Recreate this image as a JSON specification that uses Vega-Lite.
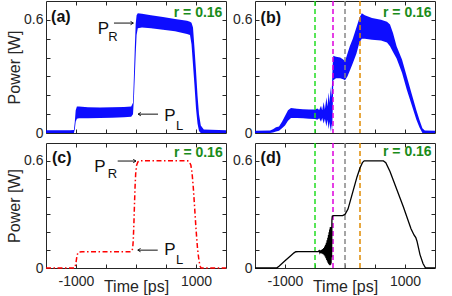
{
"$schema": "https://vega.github.io/schema/vega-lite/v6.json",
"padding": {"left": 5, "top": -1, "right": 0, "bottom": 0},
"config": {
 "view": {"stroke": "#262626", "strokeWidth": 1},
 "font": "Liberation Sans",
 "axis": {"grid": false, "domain": false, "tickSize": -4, "tickColor": "#262626", "labelFont": "Liberation Sans", "labelFontSize": 14, "labelColor": "#262626", "labelPadding": 7, "labelFlush": false, "labelOverlap": false, "titleFont": "Liberation Sans", "titleFontSize": 16, "titleFontWeight": "normal", "titleColor": "#262626"}
},
"datasets": {
 "a": [
  {"t":-1500,"lo":0,"hi":0.014},{"t":-1100,"lo":0,"hi":0.015},{"t":-1035,"lo":0,"hi":0.016},{"t":-1020,"lo":0.02,"hi":0.06},{"t":-1005,"lo":0.06,"hi":0.12},{"t":-985,"lo":0.075,"hi":0.14},{"t":-950,"lo":0.078,"hi":0.14},{"t":-800,"lo":0.078,"hi":0.137},{"t":-600,"lo":0.08,"hi":0.135},{"t":-400,"lo":0.081,"hi":0.136},{"t":-200,"lo":0.083,"hi":0.138},{"t":-80,"lo":0.086,"hi":0.14},{"t":-50,"lo":0.1,"hi":0.16},{"t":-35,"lo":0.18,"hi":0.3},{"t":-20,"lo":0.3,"hi":0.45},{"t":-5,"lo":0.42,"hi":0.58},{"t":10,"lo":0.52,"hi":0.625},{"t":30,"lo":0.555,"hi":0.635},{"t":100,"lo":0.56,"hi":0.632},{"t":250,"lo":0.555,"hi":0.625},{"t":450,"lo":0.548,"hi":0.615},{"t":650,"lo":0.54,"hi":0.605},{"t":850,"lo":0.525,"hi":0.595},{"t":900,"lo":0.52,"hi":0.59},{"t":925,"lo":0.47,"hi":0.585},{"t":950,"lo":0.36,"hi":0.56},{"t":975,"lo":0.25,"hi":0.45},{"t":1000,"lo":0.13,"hi":0.33},{"t":1025,"lo":0.05,"hi":0.2},{"t":1050,"lo":0.01,"hi":0.1},{"t":1080,"lo":0,"hi":0.04},{"t":1130,"lo":0,"hi":0.018},{"t":1500,"lo":0,"hi":0.014}
 ],
 "b": [
  {"t":-1500,"lo":0,"hi":0.012},{"t":-1250,"lo":0,"hi":0.013},{"t":-1200,"lo":0.002,"hi":0.02},{"t":-1150,"lo":0.008,"hi":0.03},{"t":-1100,"lo":0.012,"hi":0.035},{"t":-1050,"lo":0.025,"hi":0.06},{"t":-1000,"lo":0.04,"hi":0.09},{"t":-950,"lo":0.065,"hi":0.12},{"t":-900,"lo":0.08,"hi":0.132},{"t":-800,"lo":0.08,"hi":0.128},{"t":-700,"lo":0.078,"hi":0.126},{"t":-600,"lo":0.076,"hi":0.125},{"t":-500,"lo":0.074,"hi":0.124},{"t":-460,"lo":0.07,"hi":0.13},{"t":-430,"lo":0.078,"hi":0.122},{"t":-400,"lo":0.06,"hi":0.145},{"t":-380,"lo":0.08,"hi":0.12},{"t":-355,"lo":0.05,"hi":0.165},{"t":-335,"lo":0.075,"hi":0.125},{"t":-310,"lo":0.035,"hi":0.19},{"t":-292,"lo":0.07,"hi":0.14},{"t":-272,"lo":0.02,"hi":0.215},{"t":-255,"lo":0.06,"hi":0.16},{"t":-240,"lo":0.005,"hi":0.245},{"t":-228,"lo":0.05,"hi":0.19},{"t":-215,"lo":0,"hi":0.27},{"t":-205,"lo":0.12,"hi":0.36},{"t":-195,"lo":0.28,"hi":0.41},{"t":-150,"lo":0.29,"hi":0.405},{"t":-80,"lo":0.29,"hi":0.4},{"t":-30,"lo":0.285,"hi":0.39},{"t":0,"lo":0.28,"hi":0.38},{"t":40,"lo":0.3,"hi":0.42},{"t":80,"lo":0.33,"hi":0.46},{"t":130,"lo":0.37,"hi":0.5},{"t":190,"lo":0.42,"hi":0.56},{"t":240,"lo":0.48,"hi":0.61},{"t":280,"lo":0.5,"hi":0.635},{"t":330,"lo":0.5,"hi":0.625},{"t":450,"lo":0.495,"hi":0.61},{"t":600,"lo":0.49,"hi":0.6},{"t":700,"lo":0.48,"hi":0.59},{"t":750,"lo":0.46,"hi":0.575},{"t":800,"lo":0.43,"hi":0.53},{"t":860,"lo":0.395,"hi":0.46},{"t":950,"lo":0.32,"hi":0.39},{"t":1030,"lo":0.23,"hi":0.3},{"t":1110,"lo":0.15,"hi":0.21},{"t":1190,"lo":0.07,"hi":0.12},{"t":1240,"lo":0.03,"hi":0.07},{"t":1290,"lo":0,"hi":0.025},{"t":1330,"lo":0,"hi":0.013},{"t":1500,"lo":0,"hi":0.012}
 ],
 "c": [
  {"t":-1500,"v":0},{"t":-1030,"v":0},{"t":-1015,"v":0.005},{"t":-1000,"v":0.03},{"t":-985,"v":0.065},{"t":-970,"v":0.084},{"t":-950,"v":0.09},{"t":-900,"v":0.091},{"t":-100,"v":0.091},{"t":-70,"v":0.094},{"t":-55,"v":0.11},{"t":-45,"v":0.16},{"t":-35,"v":0.25},{"t":-25,"v":0.36},{"t":-15,"v":0.46},{"t":-5,"v":0.53},{"t":10,"v":0.575},{"t":30,"v":0.593},{"t":60,"v":0.6},{"t":860,"v":0.6},{"t":890,"v":0.595},{"t":915,"v":0.575},{"t":935,"v":0.53},{"t":955,"v":0.45},{"t":975,"v":0.35},{"t":1000,"v":0.22},{"t":1025,"v":0.11},{"t":1050,"v":0.04},{"t":1070,"v":0.01},{"t":1085,"v":0},{"t":1500,"v":0}
 ],
 "d": [
  {"t":-1500,"v":0},{"t":-1140,"v":0},{"t":-1100,"v":0.01},{"t":-1000,"v":0.04},{"t":-900,"v":0.07},{"t":-850,"v":0.085},{"t":-820,"v":0.091},{"t":-780,"v":0.092},{"t":-445,"v":0.092},{"t":-430,"v":0.097},{"t":-420,"v":0.087},{"t":-410,"v":0.099},{"t":-400,"v":0.084},{"t":-390,"v":0.102},{"t":-380,"v":0.081},{"t":-370,"v":0.106},{"t":-362,"v":0.077},{"t":-354,"v":0.112},{"t":-346,"v":0.071},{"t":-338,"v":0.12},{"t":-331,"v":0.064},{"t":-324,"v":0.13},{"t":-317,"v":0.055},{"t":-310,"v":0.142},{"t":-304,"v":0.045},{"t":-298,"v":0.155},{"t":-292,"v":0.036},{"t":-286,"v":0.17},{"t":-280,"v":0.028},{"t":-275,"v":0.185},{"t":-270,"v":0.022},{"t":-265,"v":0.2},{"t":-260,"v":0.018},{"t":-255,"v":0.215},{"t":-250,"v":0.016},{"t":-245,"v":0.228},{"t":-240,"v":0.018},{"t":-236,"v":0.23},{"t":-232,"v":0.025},{"t":-228,"v":0.22},{"t":-224,"v":0.06},{"t":-218,"v":0.27},{"t":-212,"v":0.29},{"t":-190,"v":0.293},{"t":-40,"v":0.293},{"t":0,"v":0.3},{"t":50,"v":0.33},{"t":100,"v":0.39},{"t":150,"v":0.45},{"t":200,"v":0.51},{"t":250,"v":0.56},{"t":290,"v":0.59},{"t":320,"v":0.6},{"t":640,"v":0.6},{"t":680,"v":0.59},{"t":750,"v":0.54},{"t":972,"v":0.343},{"t":1100,"v":0.22},{"t":1150,"v":0.185},{"t":1180,"v":0.17},{"t":1200,"v":0.15},{"t":1250,"v":0.075},{"t":1300,"v":0.025},{"t":1343,"v":0},{"t":1500,"v":0}
 ],
 "vl": [{"t":-500,"n":"g"},{"t":-200,"n":"m"},{"t":0,"n":"k"},{"t":250,"n":"o"}],
 "ann": [
  {"p":"a","t":-639,"v":0.525,"s":"P","k":"main"},{"p":"a","t":-461,"v":0.488,"s":"R","k":"sub"},{"p":"a","t":472,"v":0.065,"s":"P","k":"main"},{"p":"a","t":667,"v":0.016,"s":"L","k":"sub"},
  {"p":"c","t":-695,"v":0.539,"s":"P","k":"main"},{"p":"c","t":-472,"v":0.502,"s":"R","k":"sub"},{"p":"c","t":472,"v":0.073,"s":"P","k":"main"},{"p":"c","t":667,"v":0.021,"s":"L","k":"sub"}
 ],
 "arr": [
  {"p":"a","t1":-367,"t2":-45,"v":0.583,"dir":"r"},{"p":"a","t1":367,"t2":35,"v":0.1,"dir":"l"},
  {"p":"c","t1":-305,"t2":0,"v":0.599,"dir":"r"},{"p":"c","t1":362,"t2":30,"v":0.1,"dir":"l"}
 ],
 "lab": [
  {"p":"a","t":-1415,"v":0.588,"s":"(a)"},{"p":"b","t":-1407,"v":0.585,"s":"(b)"},{"p":"c","t":-1400,"v":0.586,"s":"(c)"},{"p":"d","t":-1407,"v":0.586,"s":"(d)"}
 ],
 "rl": [
  {"p":"a","t":1440,"v":0.617,"s":"r = 0.16"},{"p":"b","t":1444,"v":0.614,"s":"r = 0.16"},{"p":"c","t":1445,"v":0.623,"s":"r = 0.16"},{"p":"d","t":1444,"v":0.629,"s":"r = 0.16"}
 ]
},
"columns": 2,
"spacing": {"row": 10, "column": 29},
"bounds": "flush",
"concat": [
  {"width": 180, "height": 132,
   "resolve": {"axis": {"x": "independent", "y": "independent"}},
   "layer": [
    {"data": {"name": "a"}, "mark": {"type": "area", "color": "#0000ff", "opacity": 0.95},
     "encoding": {
      "x": {"field": "t", "type": "quantitative", "scale": {"domain": [-1500, 1500], "nice": false}, "axis": {"values": [-1000,-500,0,500,1000], "labels": false, "title": null}},
      "y": {"field": "hi", "type": "quantitative", "scale": {"domain": [0, 0.7], "nice": false}, "axis": {"values": [0,0.1,0.2,0.3,0.4,0.5,0.6], "labelExpr": "datum.value == 0 ? '0' : abs(datum.value - 0.6) < 0.001 ? '0.6' : ''", "title": "Power [W]", "titlePadding": 1.5}},
      "y2": {"field": "lo"}}},
    {"data": {"name": "ann"}, "transform": [{"filter": "datum.p == 'a'"}], "mark": {"type": "text", "align": "left", "baseline": "alphabetic", "font": "Liberation Sans", "color": "#111"},
     "encoding": {"x": {"field": "t", "type": "quantitative", "axis": null}, "y": {"field": "v", "type": "quantitative", "axis": null}, "text": {"field": "s"}, "size": {"field": "k", "type": "nominal", "scale": {"domain": ["main","sub"], "range": [17,13]}, "legend": null}}},
    {"data": {"name": "arr"}, "transform": [{"filter": "datum.p == 'a'"}], "mark": {"type": "rule", "color": "#111", "strokeWidth": 1},
     "encoding": {"x": {"field": "t1", "type": "quantitative", "axis": null}, "x2": {"field": "t2"}, "y": {"field": "v", "type": "quantitative", "axis": null}}},
    {"data": {"name": "arr"}, "transform": [{"filter": "datum.p == 'a'"}], "mark": {"type": "point", "filled": false, "color": "#111", "strokeWidth": 1, "size": 30, "opacity": 1},
     "encoding": {"x": {"field": "t2", "type": "quantitative", "axis": null}, "y": {"field": "v", "type": "quantitative", "axis": null}, "shape": {"field": "dir", "type": "nominal", "scale": {"domain": ["l","r"], "range": ["M1,-0.6L0,0L1,0.6", "M-1,-0.6L0,0L-1,0.6"]}, "legend": null}}},
    {"data": {"name": "lab"}, "transform": [{"filter": "datum.p == 'a'"}], "mark": {"type": "text", "align": "left", "baseline": "alphabetic", "font": "Liberation Sans", "fontWeight": "bold", "fontSize": 16, "color": "#111"},
     "encoding": {"x": {"field": "t", "type": "quantitative", "axis": null}, "y": {"field": "v", "type": "quantitative", "axis": null}, "text": {"field": "s"}}},
    {"data": {"name": "rl"}, "transform": [{"filter": "datum.p == 'a'"}], "mark": {"type": "text", "align": "right", "baseline": "alphabetic", "font": "Liberation Sans", "fontWeight": "bold", "fontSize": 14, "color": "#1a8c1a"},
     "encoding": {"x": {"field": "t", "type": "quantitative", "axis": null}, "y": {"field": "v", "type": "quantitative", "axis": null}, "text": {"field": "s"}}},
    {"data": {"name": "a"}, "mark": {"type": "point", "opacity": 0},
     "encoding": {"x": {"field": "t", "type": "quantitative", "axis": {"orient": "top", "values": [-1000,-500,0,500,1000], "labels": false, "title": null}}, "y": {"field": "hi", "type": "quantitative", "axis": {"orient": "right", "values": [0.1,0.2,0.3,0.4,0.5,0.6], "labels": false, "title": null}}}}
   ]},
  {"width": 180, "height": 132,
   "resolve": {"axis": {"x": "independent", "y": "independent"}},
   "layer": [
    {"data": {"name": "b"}, "mark": {"type": "area", "color": "#0000ff", "opacity": 0.95},
     "encoding": {
      "x": {"field": "t", "type": "quantitative", "scale": {"domain": [-1500, 1500], "nice": false}, "axis": {"values": [-1000,-500,0,500,1000], "labels": false, "title": null}},
      "y": {"field": "hi", "type": "quantitative", "scale": {"domain": [0, 0.7], "nice": false}, "axis": {"values": [0,0.1,0.2,0.3,0.4,0.5,0.6], "labelExpr": "datum.value == 0 ? '0' : abs(datum.value - 0.6) < 0.001 ? '0.6' : ''", "title": null}},
      "y2": {"field": "lo"}}},
    {"data": {"name": "vl"}, "mark": {"type": "rule", "strokeDash": [5,3], "strokeWidth": 1.5},
     "encoding": {"x": {"field": "t", "type": "quantitative", "axis": null}, "color": {"field": "n", "type": "nominal", "scale": {"domain": ["g","m","k","o"], "range": ["#22dd22","#dd00dd","#888888","#e08a00"]}, "legend": null}}},
    {"data": {"name": "lab"}, "transform": [{"filter": "datum.p == 'b'"}], "mark": {"type": "text", "align": "left", "baseline": "alphabetic", "font": "Liberation Sans", "fontWeight": "bold", "fontSize": 16, "color": "#111"},
     "encoding": {"x": {"field": "t", "type": "quantitative", "axis": null}, "y": {"field": "v", "type": "quantitative", "axis": null}, "text": {"field": "s"}}},
    {"data": {"name": "rl"}, "transform": [{"filter": "datum.p == 'b'"}], "mark": {"type": "text", "align": "right", "baseline": "alphabetic", "font": "Liberation Sans", "fontWeight": "bold", "fontSize": 14, "color": "#1a8c1a"},
     "encoding": {"x": {"field": "t", "type": "quantitative", "axis": null}, "y": {"field": "v", "type": "quantitative", "axis": null}, "text": {"field": "s"}}},
    {"data": {"name": "b"}, "mark": {"type": "point", "opacity": 0},
     "encoding": {"x": {"field": "t", "type": "quantitative", "axis": {"orient": "top", "values": [-1000,-500,0,500,1000], "labels": false, "title": null}}, "y": {"field": "hi", "type": "quantitative", "axis": {"orient": "right", "values": [0.1,0.2,0.3,0.4,0.5,0.6], "labels": false, "title": null}}}}
   ]},
  {"width": 180, "height": 125,
   "resolve": {"axis": {"x": "independent", "y": "independent"}},
   "layer": [
    {"data": {"name": "c"}, "mark": {"type": "line", "color": "#ff0000", "strokeWidth": 1.5, "strokeDash": [5,2.5,1.5,2.5]},
     "encoding": {
      "x": {"field": "t", "type": "quantitative", "scale": {"domain": [-1500, 1500], "nice": false}, "axis": {"values": [-1000,-500,0,500,1000], "labelExpr": "datum.value == -1000 ? '-1000' : datum.value == 1000 ? '1000' : ''", "labelPadding": 10, "title": "Time [ps]", "titlePadding": -10}},
      "y": {"field": "v", "type": "quantitative", "scale": {"domain": [0, 0.7], "nice": false}, "axis": {"values": [0,0.1,0.2,0.3,0.4,0.5,0.6], "labelExpr": "datum.value == 0 ? '0' : abs(datum.value - 0.6) < 0.001 ? '0.6' : ''", "title": "Power [W]", "titlePadding": 1.5}}}},
    {"data": {"name": "ann"}, "transform": [{"filter": "datum.p == 'c'"}], "mark": {"type": "text", "align": "left", "baseline": "alphabetic", "font": "Liberation Sans", "color": "#111"},
     "encoding": {"x": {"field": "t", "type": "quantitative", "axis": null}, "y": {"field": "v", "type": "quantitative", "axis": null}, "text": {"field": "s"}, "size": {"field": "k", "type": "nominal", "scale": {"domain": ["main","sub"], "range": [17,13]}, "legend": null}}},
    {"data": {"name": "arr"}, "transform": [{"filter": "datum.p == 'c'"}], "mark": {"type": "rule", "color": "#111", "strokeWidth": 1},
     "encoding": {"x": {"field": "t1", "type": "quantitative", "axis": null}, "x2": {"field": "t2"}, "y": {"field": "v", "type": "quantitative", "axis": null}}},
    {"data": {"name": "arr"}, "transform": [{"filter": "datum.p == 'c'"}], "mark": {"type": "point", "filled": false, "color": "#111", "strokeWidth": 1, "size": 30, "opacity": 1},
     "encoding": {"x": {"field": "t2", "type": "quantitative", "axis": null}, "y": {"field": "v", "type": "quantitative", "axis": null}, "shape": {"field": "dir", "type": "nominal", "scale": {"domain": ["l","r"], "range": ["M1,-0.6L0,0L1,0.6", "M-1,-0.6L0,0L-1,0.6"]}, "legend": null}}},
    {"data": {"name": "lab"}, "transform": [{"filter": "datum.p == 'c'"}], "mark": {"type": "text", "align": "left", "baseline": "alphabetic", "font": "Liberation Sans", "fontWeight": "bold", "fontSize": 16, "color": "#111"},
     "encoding": {"x": {"field": "t", "type": "quantitative", "axis": null}, "y": {"field": "v", "type": "quantitative", "axis": null}, "text": {"field": "s"}}},
    {"data": {"name": "rl"}, "transform": [{"filter": "datum.p == 'c'"}], "mark": {"type": "text", "align": "right", "baseline": "alphabetic", "font": "Liberation Sans", "fontWeight": "bold", "fontSize": 14, "color": "#1a8c1a"},
     "encoding": {"x": {"field": "t", "type": "quantitative", "axis": null}, "y": {"field": "v", "type": "quantitative", "axis": null}, "text": {"field": "s"}}},
    {"data": {"name": "c"}, "mark": {"type": "point", "opacity": 0},
     "encoding": {"x": {"field": "t", "type": "quantitative", "axis": {"orient": "top", "values": [-1000,-500,0,500,1000], "labels": false, "title": null}}, "y": {"field": "v", "type": "quantitative", "axis": {"orient": "right", "values": [0.1,0.2,0.3,0.4,0.5,0.6], "labels": false, "title": null}}}}
   ]},
  {"width": 180, "height": 125,
   "resolve": {"axis": {"x": "independent", "y": "independent"}},
   "layer": [
    {"data": {"name": "vl"}, "mark": {"type": "rule", "strokeDash": [5,3], "strokeWidth": 1.5},
     "encoding": {"x": {"field": "t", "type": "quantitative", "scale": {"domain": [-1500, 1500], "nice": false}, "axis": {"values": [-1000,-500,0,500,1000], "labelExpr": "datum.value == -1000 ? '-1000' : datum.value == 1000 ? '1000' : ''", "labelPadding": 10, "title": "Time [ps]", "titlePadding": -10}}, "color": {"field": "n", "type": "nominal", "scale": {"domain": ["g","m","k","o"], "range": ["#22dd22","#dd00dd","#888888","#e08a00"]}, "legend": null}}},
    {"data": {"name": "d"}, "mark": {"type": "line", "color": "#000000", "strokeWidth": 1.3},
     "encoding": {
      "x": {"field": "t", "type": "quantitative", "axis": null},
      "y": {"field": "v", "type": "quantitative", "scale": {"domain": [0, 0.7], "nice": false}, "axis": {"values": [0,0.1,0.2,0.3,0.4,0.5,0.6], "labelExpr": "datum.value == 0 ? '0' : abs(datum.value - 0.6) < 0.001 ? '0.6' : ''", "title": null}}}},
    {"data": {"name": "lab"}, "transform": [{"filter": "datum.p == 'd'"}], "mark": {"type": "text", "align": "left", "baseline": "alphabetic", "font": "Liberation Sans", "fontWeight": "bold", "fontSize": 16, "color": "#111"},
     "encoding": {"x": {"field": "t", "type": "quantitative", "axis": null}, "y": {"field": "v", "type": "quantitative", "axis": null}, "text": {"field": "s"}}},
    {"data": {"name": "rl"}, "transform": [{"filter": "datum.p == 'd'"}], "mark": {"type": "text", "align": "right", "baseline": "alphabetic", "font": "Liberation Sans", "fontWeight": "bold", "fontSize": 14, "color": "#1a8c1a"},
     "encoding": {"x": {"field": "t", "type": "quantitative", "axis": null}, "y": {"field": "v", "type": "quantitative", "axis": null}, "text": {"field": "s"}}},
    {"data": {"name": "d"}, "mark": {"type": "point", "opacity": 0},
     "encoding": {"x": {"field": "t", "type": "quantitative", "axis": {"orient": "top", "values": [-1000,-500,0,500,1000], "labels": false, "title": null}}, "y": {"field": "v", "type": "quantitative", "axis": {"orient": "right", "values": [0.1,0.2,0.3,0.4,0.5,0.6], "labels": false, "title": null}}}}
   ]}
]
}
